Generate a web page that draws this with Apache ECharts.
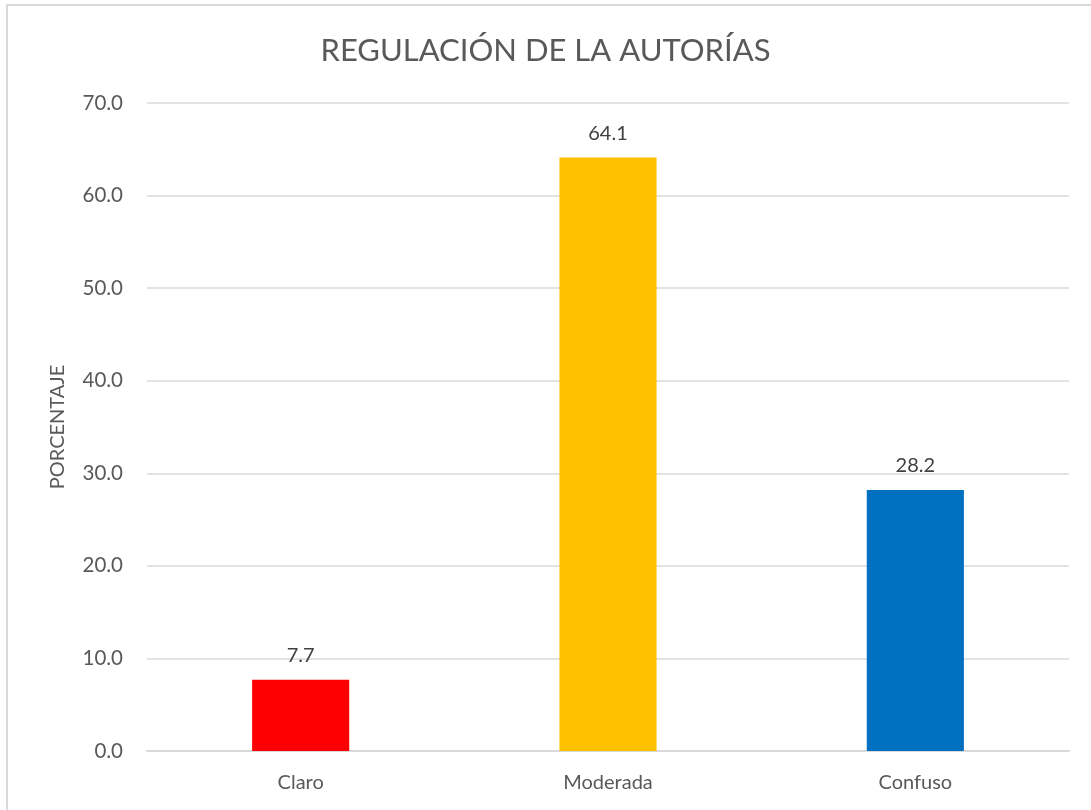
<!DOCTYPE html>
<html>
<head>
<meta charset="utf-8">
<script src="https://cdn.jsdelivr.net/npm/echarts@6/dist/echarts.min.js"></script>
<style>
  html, body { margin: 0; padding: 0; background: #fff; }
  #chart { width: 1091px; height: 810px; }
</style>
</head>
<body>
<div id="chart"></div>
<script>
let categories = ['Claro', 'Moderada', 'Confuso'];
let values = [7.7, 64.1, 28.2];
let barColors = ['#FF0000', '#FFC000', '#0070C0'];

let textColor = '#595959';
let lineColor = '#d9d9d9';
let font = 'Lato, "Open Sans", sans-serif';

let option = {
  animation: false,
  title: {
    text: 'REGULACIÓN DE LA AUTORÍAS',
    left: 'center',
    top: 30,
    textStyle: {
      color: textColor,
      fontFamily: font,
      fontSize: 31,
      fontWeight: 'normal'
    }
  },
  graphic: [{
    type: 'rect',
    shape: { x: 7, y: 5, width: 1100, height: 830 },
    style: { fill: 'none', stroke: lineColor, lineWidth: 2 },
    silent: true
  }],
  grid: {
    left: 147,
    right: 22,
    top: 103,
    bottom: 59
  },
  xAxis: {
    type: 'category',
    data: categories,
    axisLine: { lineStyle: { color: lineColor, width: 2 } },
    axisTick: { show: false },
    axisLabel: {
      color: textColor,
      fontFamily: font,
      fontSize: 20,
      margin: 22
    }
  },
  yAxis: {
    type: 'value',
    min: 0,
    max: 70,
    interval: 10,
    name: 'PORCENTAJE',
    nameLocation: 'middle',
    nameGap: 79,
    nameTextStyle: {
      color: textColor,
      fontFamily: font,
      fontSize: 20
    },
    axisLine: { show: false },
    axisTick: { show: false },
    axisLabel: {
      color: textColor,
      fontFamily: font,
      fontSize: 20.5,
      margin: 24,
      formatter: function(v) { return v.toFixed(1); }
    },
    splitLine: { lineStyle: { color: lineColor, width: 1.5 } }
  },
  series: [{
    type: 'bar',
    barWidth: '31.6%',
    data: values.map(function(v, i) {
      return { value: v, itemStyle: { color: barColors[i] } };
    }),
    label: {
      show: true,
      position: 'top',
      distance: 14,
      color: '#404040',
      fontFamily: font,
      fontSize: 20,
      formatter: function(p) { return p.value.toFixed(1); }
    }
  }]
};

let chart = echarts.init(document.getElementById('chart'));
chart.setOption(option);
</script>
</body>
</html>
